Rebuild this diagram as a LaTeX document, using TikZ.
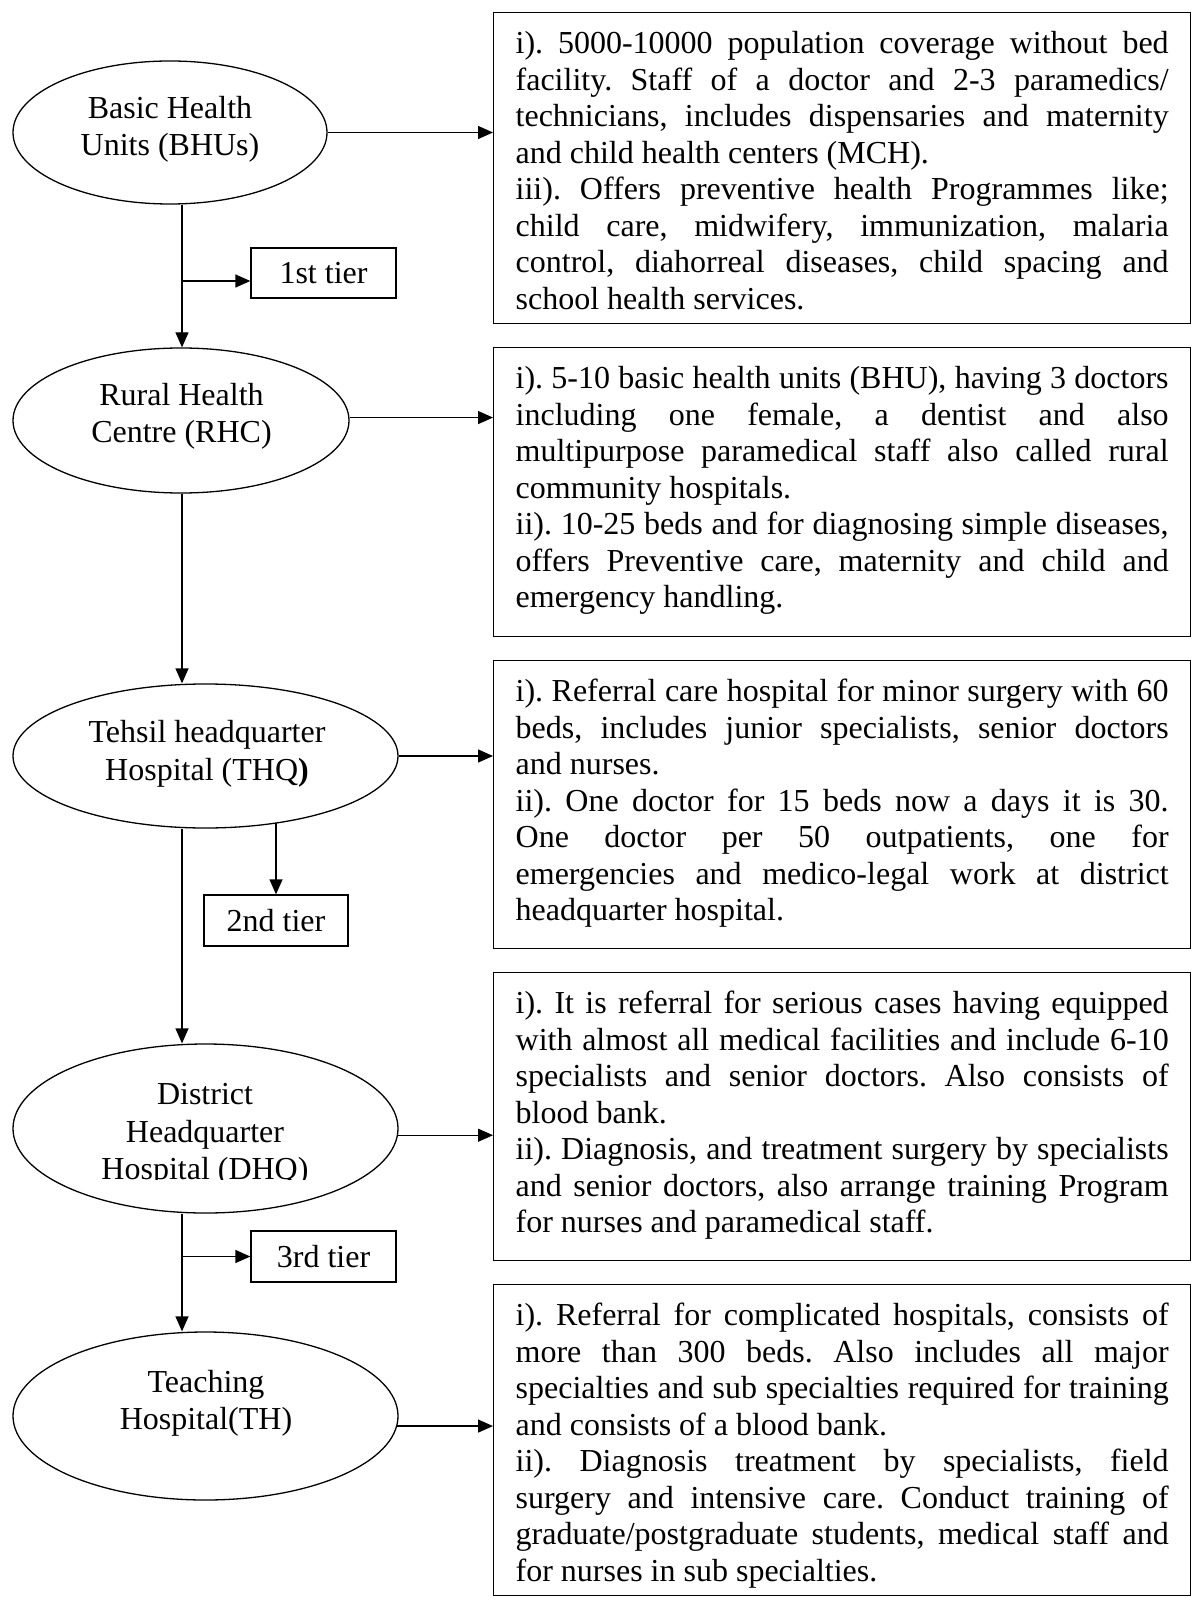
\documentclass[tikz,border=0pt]{standalone}
\usepackage{fontspec}
\setmainfont{Liberation Serif}[Ligatures=CommonOff]
\usetikzlibrary{arrows.meta,shapes.geometric}
\newdimen\pxu \pxu=0.5pt
\newcommand{\justl}[1]{\makebox[\linewidth][s]{\strut #1}\par}
\newcommand{\lastl}[1]{\makebox[\linewidth][l]{\strut #1}\par}
\newcommand{\descbody}[2]{\parbox[t][#1\pxu][t]{326.5pt}{\frenchspacing\vspace*{7.75pt}#2}}
\frenchspacing
\begin{document}
\frenchspacing
\begin{tikzpicture}[x=0.5pt, y=-0.5pt,
  desc/.style={draw, line width=0.65pt, rectangle, anchor=north west, inner xsep=11pt, inner ysep=0pt, font=\fontsize{16}{18.25}\selectfont},
  oval/.style={draw, line width=0.65pt, ellipse, inner sep=0pt},
  lbl/.style={align=center, inner sep=0pt, font=\fontsize{16}{18.75}\selectfont},
  tier/.style={draw, line width=0.65pt, rectangle, inner sep=0pt, font=\fontsize{16}{18.75}\selectfont},
  arr/.style={line width=0.65pt, -{Triangle[length=7.5pt,width=6.5pt]}}]
\fill[white] (0,0) rectangle (1191,1598);
\useasboundingbox (0,0) rectangle (1191,1598);

% ellipses
\node[oval, minimum width=314\pxu, minimum height=143\pxu] (bhu) at (170,132.5) {};
\node[oval, minimum width=336\pxu, minimum height=145\pxu] (rhc) at (181,420.5) {};
\node[oval, minimum width=385\pxu, minimum height=144\pxu] (thq) at (205.5,756) {};
\node[oval, minimum width=385\pxu, minimum height=169\pxu] (dhq) at (205.5,1128.5) {};
\node[oval, minimum width=385\pxu, minimum height=168\pxu] (th) at (205.5,1416) {};

% ellipse labels
\node[lbl] (bhutext) at (170,129.4) {Basic Health\\Units (BHUs)};
\node[lbl] (rhctext) at (181.5,416.4) {Rural Health\\Centre (RHC)};
\node[lbl] (thqtext) at (207,754) {Tehsil headquarter\\Hospital (THQ\textbf{)}};
\begin{scope}
\clip (0,1000) rectangle (400,1179.5);
\node[lbl] (dhqtext) at (205,1135) {District\\Headquarter\\Hospital (DHQ)};
\end{scope}
\node[lbl] (thtext) at (206,1403.5) {Teaching\\Hospital(TH)};

% tier boxes
\node[tier, minimum width=145\pxu, minimum height=50\pxu] (t1) at (323.5,273) {1st tier};
\node[tier, minimum width=144\pxu, minimum height=51\pxu] (t2) at (276,920.5) {2nd tier};
\node[tier, minimum width=145\pxu, minimum height=51\pxu] (t3) at (323.5,1256.5) {3rd tier};

% description boxes
\node[desc] (d1) at (493,12) {\descbody{311}{%
\justl{i). 5000-10000 population coverage without bed}
\justl{facility. Staff of a doctor and 2-3 paramedics/}
\justl{technicians, includes dispensaries and maternity}
\lastl{and child health centers (MCH).}
\justl{iii). Offers preventive health Programmes like;}
\justl{child care, midwifery, immunization, malaria}
\justl{control, diahorreal diseases, child spacing and}
\lastl{school health services.}}};

\node[desc] (d2) at (493,347) {\descbody{289}{%
\justl{i). 5-10 basic health units (BHU), having 3 doctors}
\justl{including one female, a dentist and also}
\justl{multipurpose paramedical staff also called rural}
\lastl{community hospitals.}
\justl{ii). 10-25 beds and for diagnosing simple diseases,}
\justl{offers Preventive care, maternity and child and}
\lastl{emergency handling.}}};

\node[desc] (d3) at (493,660) {\descbody{288}{%
\justl{i). Referral care hospital for minor surgery with 60}
\justl{beds, includes junior specialists, senior doctors}
\lastl{and nurses.}
\justl{ii). One doctor for 15 beds now a days it is 30.}
\justl{One doctor per 50 outpatients, one for}
\justl{emergencies and medico-legal work at district}
\lastl{headquarter hospital.}}};

\node[desc] (d4) at (493,972) {\descbody{288}{%
\justl{i). It is referral for serious cases having equipped}
\justl{with almost all medical facilities and include 6-10}
\justl{specialists and senior doctors. Also consists of}
\lastl{blood bank.}
\justl{ii). Diagnosis, and treatment surgery by specialists}
\justl{and senior doctors, also arrange training Program}
\lastl{for nurses and paramedical staff.}}};

\node[desc] (d5) at (493,1284) {\descbody{311}{%
\justl{i). Referral for complicated hospitals, consists of}
\justl{more than 300 beds. Also includes all major}
\justl{specialties and sub specialties required for training}
\lastl{and consists of a blood bank.}
\justl{ii). Diagnosis treatment by specialists, field}
\justl{surgery and intensive care. Conduct training of}
\justl{graduate/postgraduate students, medical staff and}
\lastl{for nurses in sub specialties.}}};

% spine
\coordinate (spine) at (182,0);
\coordinate (j1) at (182,281);
\draw[arr] (bhu.south -| spine) -- (rhc.north -| spine);
\draw[arr] (rhc.south -| spine) -- (thq.north -| spine);
\draw[arr] (thq.south -| spine) -- (dhq.north -| spine);
\draw[arr] (dhq.south -| spine) -- (th.north -| spine);

% tier branches
\draw[arr] (j1) -- (j1 -| t1.west);
\draw[arr] (t2.north |- thq.-43.5) -- (t2.north);
\draw[arr] (t3.west -| spine) -- (t3.west);

% horizontal arrows
\draw[arr] (bhu.east) -- (bhu.east -| d1.west);
\draw[arr] (rhc.1.2) -- (rhc.1.2 -| d2.west);
\draw[arr] (thq.east) -- (thq.east -| d3.west);
\draw[arr] (dhq.-2.5) -- (dhq.-2.5 -| d4.west);
\draw[arr] (th.-3) -- (th.-3 -| d5.west);
\end{tikzpicture}
\end{document}
